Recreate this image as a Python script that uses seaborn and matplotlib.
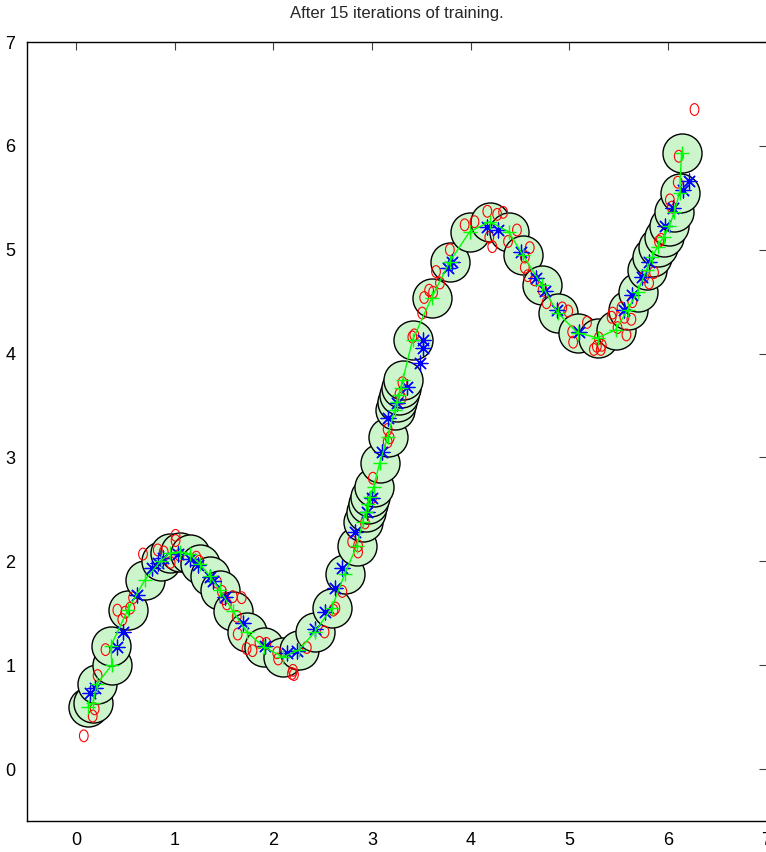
import numpy as np
import pandas as pd
import matplotlib
matplotlib.use("Agg")
import matplotlib.pyplot as plt
import seaborn as sns
from matplotlib.path import Path
from matplotlib.transforms import Affine2D

# ---- data -------------------------------------------------------------
title = "After 15 iterations of training."

node_x = [0.121, 0.172, 0.213, 0.364, 0.354, 0.526, 0.699, 0.861, 0.952, 1.054,
          1.154, 1.256, 1.357, 1.459, 1.590, 1.732, 1.905, 2.097, 2.259, 2.421,
          2.593, 2.725, 2.846, 2.907, 2.938, 2.957, 2.978, 3.018, 3.079, 3.160,
          3.231, 3.251, 3.272, 3.292, 3.313, 3.413, 3.606, 3.788, 3.991, 4.193,
          4.386, 4.528, 4.720, 4.882, 5.085, 5.287, 5.470, 5.592, 5.693, 5.784,
          5.844, 5.895, 5.956, 6.016, 6.067, 6.118, 6.139]
node_y = [0.597, 0.636, 0.819, 1.002, 1.185, 1.532, 1.821, 2.004, 2.081, 2.091,
          2.071, 1.975, 1.859, 1.724, 1.522, 1.320, 1.175, 1.079, 1.146, 1.320,
          1.551, 1.879, 2.148, 2.380, 2.476, 2.553, 2.620, 2.717, 2.948, 3.198,
          3.459, 3.536, 3.603, 3.671, 3.748, 4.133, 4.538, 4.884, 5.173, 5.270,
          5.173, 4.952, 4.663, 4.393, 4.200, 4.152, 4.229, 4.422, 4.595, 4.807,
          4.933, 5.029, 5.125, 5.231, 5.366, 5.549, 5.934]

blue_x = [0.142, 0.192, 0.415, 0.476, 0.618, 0.770, 0.831, 0.882, 1.033, 1.154,
          1.236, 1.357, 1.388, 1.510, 1.692, 1.915, 2.138, 2.239, 2.421, 2.523,
          2.623, 2.695, 2.826, 2.948, 2.998, 3.100, 3.160, 3.251, 3.353, 3.485,
          3.515, 3.515, 3.768, 3.808, 4.164, 4.275, 4.508, 4.659, 4.751, 4.872,
          5.095, 5.551, 5.632, 5.733, 5.804, 5.966, 6.047, 6.149, 6.219]
blue_y = [0.732, 0.780, 1.175, 1.320, 1.676, 1.936, 1.985, 2.033, 2.071, 2.023,
          1.965, 1.850, 1.811, 1.657, 1.407, 1.185, 1.118, 1.137, 1.349, 1.513,
          1.744, 1.936, 2.283, 2.476, 2.611, 3.054, 3.382, 3.526, 3.680, 3.911,
          4.056, 4.133, 4.827, 4.884, 5.222, 5.193, 4.981, 4.730, 4.605, 4.422,
          4.210, 4.422, 4.566, 4.740, 4.884, 5.231, 5.405, 5.578, 5.665]

red_x = [0.08, 0.17, 0.19, 0.22, 0.30, 0.42, 0.47, 0.50, 0.55, 0.58,
         0.68, 0.83, 0.89, 0.96, 1.01, 1.01, 1.05, 1.22, 1.25, 1.43,
         1.48, 1.50, 1.53, 1.59, 1.68, 1.63, 1.64, 1.73, 1.79, 1.86,
         1.93, 2.04, 2.05, 2.19, 2.20, 2.21, 2.34, 2.52, 2.63, 2.70,
         2.61, 2.80, 2.86, 2.86, 2.93, 3.00, 3.01, 3.16, 3.18, 3.16,
         3.30, 3.28, 3.31, 3.41, 3.43, 3.51, 3.53, 3.58, 3.62, 3.65,
         3.69, 3.79, 3.94, 4.04, 4.17, 4.27, 4.33, 4.19, 4.22, 4.38,
         4.47, 4.60, 4.55, 4.55, 4.58, 4.65, 4.73, 4.77, 4.93, 4.99,
         5.03, 5.04, 5.18, 5.25, 5.28, 5.32, 5.30, 5.33, 5.43, 5.44,
         5.49, 5.53, 5.56, 5.58, 5.63, 5.64, 5.76, 5.81, 5.86, 5.91,
         5.93, 6.02, 6.04, 6.10, 6.11, 6.27]
red_y = [0.32, 0.51, 0.58, 0.90, 1.15, 1.53, 1.44, 1.51, 1.55, 1.65,
         2.07, 2.11, 2.09, 1.99, 2.25, 2.20, 2.06, 2.04, 2.00, 1.80,
         1.71, 1.64, 1.59, 1.66, 1.65, 1.47, 1.30, 1.16, 1.14, 1.22,
         1.21, 1.12, 1.06, 0.92, 0.95, 0.91, 1.17, 1.32, 1.55, 1.71,
         1.53, 2.19, 2.15, 2.09, 2.37, 2.61, 2.80, 3.27, 3.19, 3.15,
         3.57, 3.61, 3.72, 4.16, 4.18, 4.39, 4.54, 4.61, 4.59, 4.79,
         4.68, 5.00, 5.24, 5.27, 5.37, 5.34, 5.36, 5.12, 5.03, 5.08,
         5.19, 5.02, 4.93, 4.83, 4.75, 4.71, 4.61, 4.49, 4.44, 4.41,
         4.21, 4.11, 4.30, 4.04, 4.07, 4.04, 4.15, 4.08, 4.35, 4.39,
         4.25, 4.44, 4.35, 4.18, 4.33, 4.50, 4.74, 4.68, 4.78, 5.08,
         5.10, 5.48, 5.41, 5.65, 5.90, 6.35]

x_ticks = [0, 1, 2, 3, 4, 5, 6, 7]
y_ticks = [0, 1, 2, 3, 4, 5, 6, 7]

# ---- figure -------------------------------------------------------------
sns.set_theme(style="white")
plt.rcParams['font.family'] = ['Liberation Sans Narrow', 'Liberation Sans', 'DejaVu Sans']

fig = plt.figure(figsize=(7.66, 8.52), dpi=100)
ax = fig.add_axes([0.0347, 0.0364, 0.966, 0.9143])

nodes = pd.DataFrame({"x": node_x, "y": node_y})
blue = pd.DataFrame({"x": blue_x, "y": blue_y})
red = pd.DataFrame({"x": red_x, "y": red_y})

sns.scatterplot(data=nodes, x="x", y="y", ax=ax, s=790, marker="o",
                facecolor="#ccf5cc", edgecolor="black", linewidth=1.0, zorder=1)

ellipse = Path.unit_circle().transformed(Affine2D().scale(0.74, 1.0))
sns.scatterplot(data=red, x="x", y="y", ax=ax, s=72, marker=ellipse,
                facecolor="none", edgecolor="red", linewidth=0.8, zorder=2)

sns.scatterplot(data=blue, x="x", y="y", ax=ax, s=115, marker=(8, 2, 0),
                color="blue", edgecolor="blue", linewidth=0.9, zorder=3)

sns.lineplot(data=nodes, x="x", y="y", ax=ax, sort=False, estimator=None,
             color=(0, 1, 0), linewidth=1.0, marker="+", markersize=10,
             markeredgewidth=1.0, markeredgecolor=(0, 1, 0), zorder=4)

ax.set_xlim(-0.5, 7)
ax.set_ylim(-0.5, 7)
ax.set_xticks(x_ticks)
ax.set_yticks(y_ticks)
ax.set_xlabel("")
ax.set_ylabel("")
ax.tick_params(direction="in", length=6, width=0.8, color="#404040",
               top=True, right=True, labelsize=13, labelcolor="black", pad=8)
for s in ax.spines.values():
    s.set_color("black")
    s.set_linewidth(1.0)
ax.set_title(title, fontsize=12, pad=17)

fig.savefig("out.png", dpi=100)
